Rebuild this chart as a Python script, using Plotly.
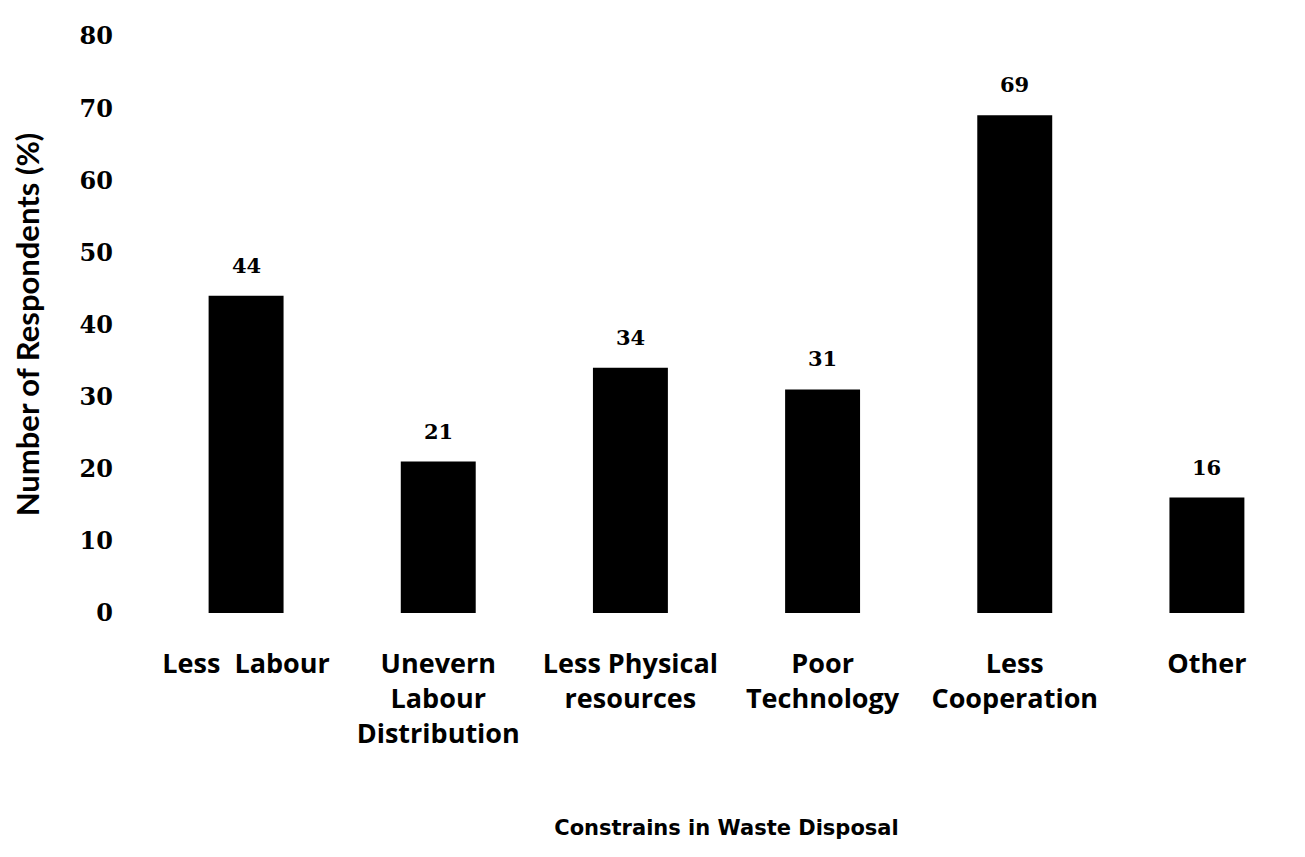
import plotly.graph_objects as go

categories = ["Less  Labour", "Unevern<br>Labour<br>Distribution", "Less Physical<br>resources",
              "Poor<br>Technology", "Less<br>Cooperation", "Other"]
values = [44, 21, 34, 31, 69, 16]
y_ticks = [0, 10, 20, 30, 40, 50, 60, 70, 80]

xs = list(range(len(categories)))
fig = go.Figure(go.Bar(
    x=xs, y=values,
    marker=dict(color="black", line=dict(width=0)),
))

for xi, v in zip(xs, values):
    fig.add_annotation(x=xi, y=v, text=f"<b>{v}</b>", showarrow=False,
                       yanchor="bottom", yshift=16,
                       font=dict(family="DejaVu Serif", size=21, color="black"))

fig.update_layout(
    width=1305, height=857,
    margin=dict(l=142, r=10, t=28, b=252),
    paper_bgcolor="white", plot_bgcolor="white",
    bargap=0.61, showlegend=False,
    xaxis=dict(
        tickvals=xs, ticktext=[f"<b>{c}</b>" for c in categories],
        range=[-0.5, 5.5], showgrid=False, zeroline=False, showline=False,
        ticks="", tickfont=dict(family="Open Sans", size=27, color="black"),
        ticklabelstandoff=32,
        title=dict(text="<b>Constrains in Waste Disposal</b>",
                   font=dict(family="DejaVu Sans", size=21, color="black"), standoff=70),
    ),
    yaxis=dict(
        range=[0, 80], tickvals=y_ticks, ticktext=[f"<b>{t}</b>" for t in y_ticks],
        showgrid=False, zeroline=False, showline=False,
        ticks="", tickfont=dict(family="DejaVu Serif", size=24, color="black"),
        ticklabelstandoff=36,
        title=dict(text="<b>Number of Respondents (%)</b>",
                   font=dict(family="Lato", size=31, color="black"), standoff=30),
    ),
)

fig.write_html("out.html")
